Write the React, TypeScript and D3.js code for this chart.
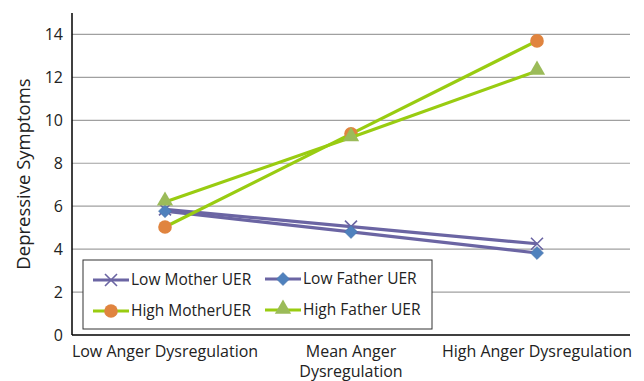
import React from "react";
import * as d3 from "d3";

const categories = ["Low Anger Dysregulation", "Mean Anger Dysregulation", "High Anger Dysregulation"];
const categoryLines = [["Low Anger Dysregulation"], ["Mean Anger", "Dysregulation"], ["High Anger Dysregulation"]];
const lowMother = [5.85, 5.05, 4.25];
const lowFather = [5.77, 4.8, 3.82];
const highMother = [5.03, 9.37, 13.7];
const highFather = [6.2, 9.2, 12.3];
const yTicks = [0, 2, 4, 6, 8, 10, 12, 14];

const seriesList = [
  { name: "Low Mother UER", values: lowMother, line: "#6B65A3", marker: "x", fill: "#6B65A3" },
  { name: "Low Father UER", values: lowFather, line: "#6B65A3", marker: "diamond", fill: "#4F81BD" },
  { name: "High MotherUER", values: highMother, line: "#99CC11", marker: "circle", fill: "#E0843F" },
  { name: "High Father UER", values: highFather, line: "#99CC11", marker: "triangle", fill: "#9BBB59" },
];

const W = 644, H = 381;
const left = 72, right = 630, top = 13, bottom = 335;
const font = "'Open Sans', 'Liberation Sans', sans-serif";

function Marker({ type, x, y, fill }: { type: string; x: number; y: number; fill: string }) {
  if (type === "x") {
    const s = 6;
    return <path d={`M${x - s},${y - s}L${x + s},${y + s}M${x - s},${y + s}L${x + s},${y - s}`} stroke={fill} strokeWidth={1.6} fill="none" />;
  }
  if (type === "diamond") {
    const s = 6.5;
    return <path d={`M${x},${y - s}L${x + s},${y}L${x},${y + s}L${x - s},${y}Z`} fill={fill} stroke="#4A72AA" strokeWidth={0.6} />;
  }
  if (type === "circle") {
    return <circle cx={x} cy={y} r={6.8} fill={fill} />;
  }
  const p = d3.symbol(d3.symbolTriangle, 115)();
  return <path d={p || ""} transform={`translate(${x},${y - 1})`} fill={fill} />;
}

export default function App() {
  const x = d3.scaleBand<string>().domain(categories).range([left, right]);
  const y = d3.scaleLinear().domain([0, 15]).range([bottom, top]);
  const cx = (c: string) => (x(c) as number) + x.bandwidth() / 2;
  const line = d3.line<number>().x((_, i) => cx(categories[i])).y((v) => y(v));

  const legendItems = [
    { s: seriesList[0], lx: 93, ly: 280 },
    { s: seriesList[1], lx: 265, ly: 279 },
    { s: seriesList[2], lx: 93, ly: 311 },
    { s: seriesList[3], lx: 265, ly: 310 },
  ];

  return (
    <svg width={W} height={H} style={{ position: "absolute", left: 0, top: 0, fontFamily: font }}>
      <rect width={W} height={H} fill="#fff" />
      {yTicks.map((t) => (
        <g key={t}>
          {t > 0 && <line x1={left} x2={right} y1={y(t)} y2={y(t)} stroke="#A0A0A0" strokeWidth={1.2} />}
          <text x={63} y={y(t)} dy="0.35em" textAnchor="end" fontSize={16} fill="#222">{t}</text>
        </g>
      ))}
      <line x1={left} x2={left} y1={top} y2={bottom} stroke="#000" strokeWidth={1.5} />
      <line x1={left} x2={right} y1={bottom} y2={bottom} stroke="#000" strokeWidth={1.5} />
      <text transform={`translate(24,174) rotate(-90)`} dy="0.35em" textAnchor="middle" fontSize={18.5} fill="#222">Depressive Symptoms</text>
      {categories.map((c, i) => (
        <text key={c} x={cx(c)} y={357} textAnchor="middle" fontSize={16} fill="#222">
          {categoryLines[i].map((l, j) => (
            <tspan key={j} x={cx(c)} dy={j === 0 ? 0 : 20}>{l}</tspan>
          ))}
        </text>
      ))}
      {seriesList.map((s) => (
        <g key={s.name}>
          <path d={line(s.values) || ""} fill="none" stroke={s.line} strokeWidth={3.2} />
          {s.values.map((v, i) => (
            <Marker key={i} type={s.marker} x={cx(categories[i])} y={y(v)} fill={s.fill} />
          ))}
        </g>
      ))}
      <rect x={83} y={260} width={349} height={69} fill="#fff" stroke="#333" strokeWidth={1} />
      {legendItems.map(({ s, lx, ly }) => (
        <g key={s.name}>
          <line x1={lx} x2={lx + 36} y1={ly} y2={ly} stroke={s.line} strokeWidth={3.2} />
          <Marker type={s.marker} x={lx + 18} y={ly} fill={s.fill} />
          <text x={lx + 38} y={ly} dy="0.35em" fontSize={15.5} fill="#222">{s.name}</text>
        </g>
      ))}
    </svg>
  );
}
